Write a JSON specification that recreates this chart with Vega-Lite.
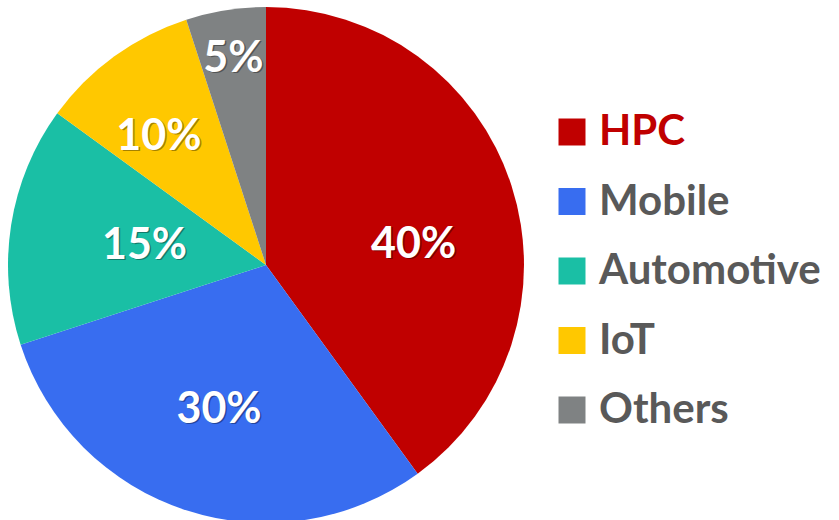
{
  "$schema": "https://vega.github.io/schema/vega-lite/v6.json",
  "width": 532,
  "height": 530,
  "padding": {"left": 0, "top": 0, "right": 307, "bottom": 0},
  "autosize": {"type": "none"},
  "background": "white",
  "config": {"view": {"stroke": null}, "font": "Lato"},
  "data": {
    "values": [
      {"segment": "HPC", "share": 40, "order": 1, "label": "40%"},
      {"segment": "Mobile", "share": 30, "order": 2, "label": "30%"},
      {"segment": "Automotive", "share": 15, "order": 3, "label": "15%"},
      {"segment": "IoT", "share": 10, "order": 4, "label": "10%"},
      {"segment": "Others", "share": 5, "order": 5, "label": "5%"}
    ]
  },
  "encoding": {
    "theta": {"field": "share", "type": "quantitative", "stack": true},
    "order": {"field": "order", "type": "quantitative"}
  },
  "layer": [
    {
      "mark": {"type": "arc", "outerRadius": 258},
      "encoding": {
        "color": {
          "field": "segment",
          "type": "nominal",
          "sort": ["HPC", "Mobile", "Automotive", "IoT", "Others"],
          "scale": {
            "domain": ["HPC", "Mobile", "Automotive", "IoT", "Others"],
            "range": ["#C00000", "#386DF0", "#1ABFA5", "#FFC800", "#7F8283"]
          },
          "legend": {
            "title": null,
            "orient": "none",
            "legendX": 551,
            "legendY": 111,
            "symbolType": "square",
            "symbolSize": 729,
            "symbolStrokeWidth": 0,
            "symbolOpacity": 1,
            "labelFontSize": 42,
            "labelFont": "Lato",
            "labelFontWeight": "bold",
            "labelColor": "#595959",
            "labelOffset": 6,
            "labelLimit": 400,
            "rowPadding": 27.5,
            "encode": {
              "labels": {
                "update": {
                  "fill": {"signal": "datum.value === 'HPC' ? '#C00000' : '#595959'"}
                }
              }
            }
          }
        }
      }
    },
    {
      "mark": {"type": "text", "radius": 152, "fontSize": 43, "fontWeight": "bold", "font": "Lato", "color": "#000000", "opacity": 0.35, "dx": 1.5, "dy": 1.5},
      "encoding": {"text": {"condition": {"test": "datum.order == 2", "field": "label"}, "value": ""}}
    },
    {
      "mark": {"type": "text", "radius": 152, "fontSize": 43, "fontWeight": "bold", "font": "Lato", "color": "white"},
      "encoding": {"text": {"condition": {"test": "datum.order == 2", "field": "label"}, "value": ""}}
    },
    {
      "mark": {"type": "text", "radius": 123, "fontSize": 43, "fontWeight": "bold", "font": "Lato", "color": "#000000", "opacity": 0.35, "dx": 1.5, "dy": 1.5},
      "encoding": {"text": {"condition": {"test": "datum.order == 3", "field": "label"}, "value": ""}}
    },
    {
      "mark": {"type": "text", "radius": 123, "fontSize": 43, "fontWeight": "bold", "font": "Lato", "color": "white"},
      "encoding": {"text": {"condition": {"test": "datum.order == 3", "field": "label"}, "value": ""}}
    },
    {
      "mark": {"type": "text", "radius": 150, "fontSize": 43, "fontWeight": "bold", "font": "Lato", "color": "#000000", "opacity": 0.35, "dx": 6.5, "dy": 27.5},
      "encoding": {"text": {"condition": {"test": "datum.order == 1", "field": "label"}, "value": ""}}
    },
    {
      "mark": {"type": "text", "radius": 150, "fontSize": 43, "fontWeight": "bold", "font": "Lato", "color": "white", "dx": 5, "dy": 26},
      "encoding": {"text": {"condition": {"test": "datum.order == 1", "field": "label"}, "value": ""}}
    },
    {
      "mark": {"type": "text", "radius": 167, "fontSize": 43, "fontWeight": "bold", "font": "Lato", "color": "#000000", "opacity": 0.35, "dx": -7.5, "dy": 8.5},
      "encoding": {"text": {"condition": {"test": "datum.order == 4", "field": "label"}, "value": ""}}
    },
    {
      "mark": {"type": "text", "radius": 167, "fontSize": 43, "fontWeight": "bold", "font": "Lato", "color": "white", "dx": -9, "dy": 7},
      "encoding": {"text": {"condition": {"test": "datum.order == 4", "field": "label"}, "value": ""}}
    },
    {
      "mark": {"type": "text", "radius": 209, "fontSize": 43, "fontWeight": "bold", "font": "Lato", "color": "#000000", "opacity": 0.35, "dx": 1.5, "dy": 1.5},
      "encoding": {"text": {"condition": {"test": "datum.order == 5", "field": "label"}, "value": ""}}
    },
    {
      "mark": {"type": "text", "radius": 209, "fontSize": 43, "fontWeight": "bold", "font": "Lato", "color": "white"},
      "encoding": {"text": {"condition": {"test": "datum.order == 5", "field": "label"}, "value": ""}}
    }
  ]
}
